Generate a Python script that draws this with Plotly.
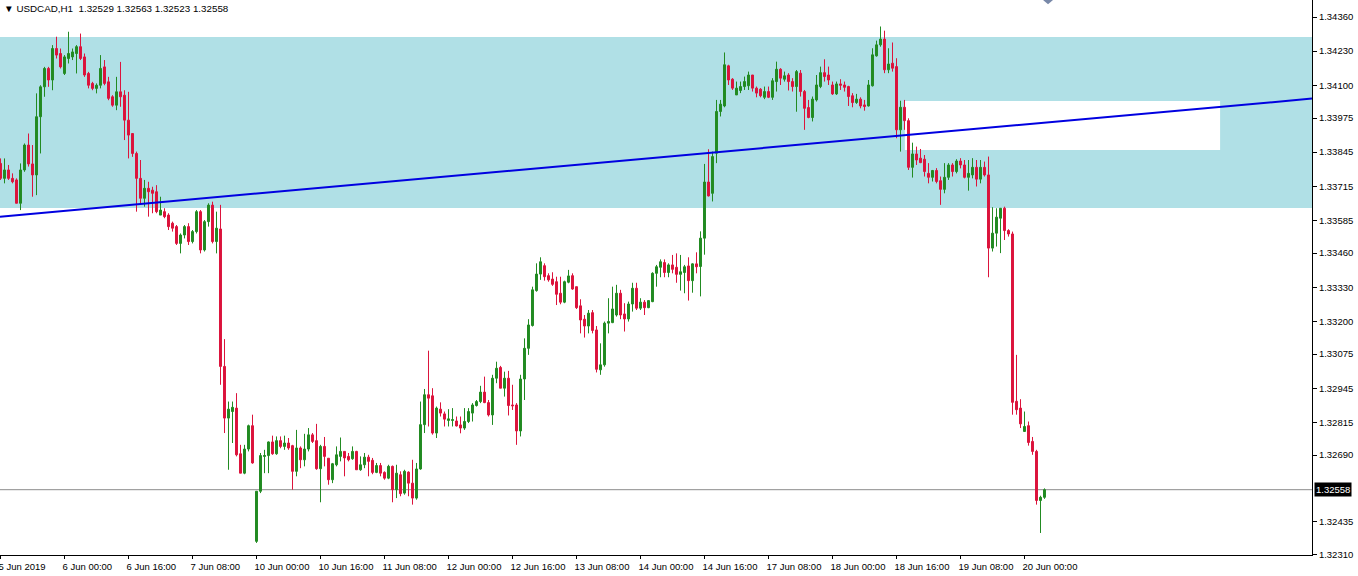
import plotly.graph_objects as go

SYMBOL = "USDCAD,H1"

opens = [
    1.33802, 1.33745, 1.33777, 1.33745, 1.33739, 1.33650, 1.33777, 1.33872, 1.33800, 1.33758,
    1.33980, 1.34094, 1.34164, 1.34120, 1.34240, 1.34221, 1.34145, 1.34202, 1.34208, 1.34221,
    1.34247, 1.34208, 1.34145, 1.34107, 1.34088, 1.34100, 1.34170, 1.34113, 1.34056, 1.34024,
    1.34075, 1.34062, 1.33967, 1.33916, 1.33840, 1.33745, 1.33669, 1.33707, 1.33700, 1.33694,
    1.33605, 1.33618, 1.33605, 1.33574, 1.33561, 1.33497, 1.33529, 1.33561, 1.33504, 1.33542,
    1.33618, 1.33472, 1.33580, 1.33643, 1.33504, 1.33552, 1.33028, 1.32831, 1.32856, 1.32869,
    1.32695, 1.32621, 1.32713, 1.32802, 1.32361, 1.32552, 1.32685, 1.32688, 1.32740, 1.32695,
    1.32745, 1.32723, 1.32736, 1.32726, 1.32628, 1.32717, 1.32672, 1.32713, 1.32767, 1.32745,
    1.32638, 1.32723, 1.32678, 1.32596, 1.32653, 1.32685, 1.32704, 1.32685, 1.32676, 1.32704,
    1.32634, 1.32653, 1.32682, 1.32670, 1.32624, 1.32650, 1.32624, 1.32602, 1.32647, 1.32558,
    1.32615, 1.32545, 1.32625, 1.32583, 1.32526, 1.32637, 1.32806, 1.32920, 1.32916, 1.32774,
    1.32865, 1.32847, 1.32822, 1.32822, 1.32820, 1.32805, 1.32793, 1.32818, 1.32850, 1.32879,
    1.32894, 1.32930, 1.32890, 1.32843, 1.32983, 1.33024, 1.32945, 1.32983, 1.32881, 1.32881,
    1.32782, 1.32980, 1.33097, 1.33184, 1.33317, 1.33380, 1.33412, 1.33374, 1.33361, 1.33351,
    1.33307, 1.33273, 1.33349, 1.33374, 1.33332, 1.33259, 1.33208, 1.33182, 1.33233, 1.33167,
    1.33015, 1.33034, 1.33193, 1.33195, 1.33224, 1.33307, 1.33228, 1.33209, 1.33266, 1.33326,
    1.33250, 1.33273, 1.33252, 1.33275, 1.33383, 1.33406, 1.33424, 1.33386, 1.33415, 1.33406,
    1.33379, 1.33386, 1.33411, 1.33355, 1.33419, 1.33409, 1.33517, 1.33731, 1.33688, 1.33841,
    1.34000, 1.34021, 1.34174, 1.34123, 1.34063, 1.34080, 1.34095, 1.34098, 1.34139, 1.34089,
    1.34085, 1.34054, 1.34076, 1.34054, 1.34114, 1.34161, 1.34123, 1.34139, 1.34114, 1.34095,
    1.34146, 1.34076, 1.34015, 1.33977, 1.34044, 1.34095, 1.34148, 1.34139, 1.34101, 1.34067,
    1.34105, 1.34101, 1.34095, 1.34060, 1.34034, 1.34047, 1.34025, 1.34021, 1.34098, 1.34212,
    1.34254, 1.34276, 1.34159, 1.34184, 1.34171, 1.33930, 1.34016, 1.33965, 1.33787, 1.33838,
    1.33822, 1.33818, 1.33764, 1.33749, 1.33775, 1.33736, 1.33703, 1.33749, 1.33796, 1.33771,
    1.33811, 1.33796, 1.33749, 1.33758, 1.33787, 1.33742, 1.33787, 1.33758, 1.33479, 1.33536,
    1.33593, 1.33631, 1.33546, 1.33533, 1.32895, 1.32869, 1.32780, 1.32802, 1.32742, 1.32704,
    1.32517, 1.32529,
]

highs = [
    1.33821, 1.33821, 1.33796, 1.33764, 1.33745, 1.33802, 1.33878, 1.33916, 1.33872, 1.34069,
    1.34100, 1.34170, 1.34170, 1.34253, 1.34285, 1.34240, 1.34215, 1.34304, 1.34240, 1.34253,
    1.34297, 1.34221, 1.34151, 1.34113, 1.34107, 1.34215, 1.34196, 1.34132, 1.34062, 1.34132,
    1.34189, 1.34081, 1.34075, 1.33916, 1.33847, 1.33815, 1.33739, 1.33732, 1.33713, 1.33719,
    1.33675, 1.33631, 1.33612, 1.33580, 1.33567, 1.33535, 1.33567, 1.33574, 1.33548, 1.33624,
    1.33624, 1.33586, 1.33650, 1.33656, 1.33618, 1.33644, 1.33132, 1.32894, 1.32894, 1.32926,
    1.32729, 1.32729, 1.32806, 1.32844, 1.32552, 1.32698, 1.32710, 1.32742, 1.32764, 1.32761,
    1.32761, 1.32764, 1.32755, 1.32729, 1.32786, 1.32723, 1.32771, 1.32793, 1.32774, 1.32809,
    1.32729, 1.32759, 1.32678, 1.32660, 1.32723, 1.32757, 1.32704, 1.32698, 1.32723, 1.32706,
    1.32685, 1.32698, 1.32691, 1.32679, 1.32660, 1.32660, 1.32628, 1.32653, 1.32650, 1.32653,
    1.32628, 1.32634, 1.32628, 1.32672, 1.32660, 1.32894, 1.32942, 1.33088, 1.32945, 1.32875,
    1.32891, 1.32856, 1.32865, 1.32869, 1.32837, 1.32837, 1.32869, 1.32869, 1.32888, 1.32900,
    1.32954, 1.32989, 1.32900, 1.32996, 1.33046, 1.33030, 1.33008, 1.33011, 1.32958, 1.32888,
    1.32996, 1.33135, 1.33208, 1.33332, 1.33421, 1.33444, 1.33421, 1.33383, 1.33387, 1.33370,
    1.33370, 1.33355, 1.33396, 1.33383, 1.33332, 1.33284, 1.33224, 1.33243, 1.33243, 1.33182,
    1.33116, 1.33199, 1.33288, 1.33332, 1.33339, 1.33320, 1.33269, 1.33275, 1.33347, 1.33347,
    1.33288, 1.33281, 1.33281, 1.33387, 1.33415, 1.33436, 1.33436, 1.33421, 1.33453, 1.33459,
    1.33453, 1.33415, 1.33444, 1.33421, 1.33463, 1.33543, 1.33800, 1.33856, 1.33847, 1.34044,
    1.34044, 1.34225, 1.34178, 1.34127, 1.34114, 1.34114, 1.34133, 1.34152, 1.34139, 1.34095,
    1.34089, 1.34095, 1.34095, 1.34127, 1.34190, 1.34165, 1.34152, 1.34146, 1.34127, 1.34158,
    1.34158, 1.34082, 1.34044, 1.34057, 1.34139, 1.34171, 1.34199, 1.34171, 1.34114, 1.34114,
    1.34123, 1.34114, 1.34098, 1.34070, 1.34067, 1.34054, 1.34044, 1.34120, 1.34241, 1.34270,
    1.34324, 1.34308, 1.34241, 1.34263, 1.34203, 1.34041, 1.34044, 1.33974, 1.33881, 1.33866,
    1.33857, 1.33834, 1.33803, 1.33777, 1.33784, 1.33752, 1.33803, 1.33803, 1.33803, 1.33818,
    1.33822, 1.33815, 1.33815, 1.33822, 1.33815, 1.33815, 1.33809, 1.33828, 1.33635, 1.33631,
    1.33631, 1.33637, 1.33551, 1.33542, 1.33072, 1.32903, 1.32856, 1.32818, 1.32759, 1.32710,
    1.32535, 1.32563,
]

lows = [
    1.33739, 1.33726, 1.33739, 1.33726, 1.33650, 1.33624, 1.33770, 1.33790, 1.33675, 1.33681,
    1.33840, 1.34056, 1.34094, 1.34081, 1.34202, 1.34164, 1.34139, 1.34183, 1.34196, 1.34145,
    1.34196, 1.34132, 1.34088, 1.34081, 1.34069, 1.34088, 1.34100, 1.34043, 1.34018, 1.34005,
    1.34018, 1.33891, 1.33821, 1.33827, 1.33618, 1.33650, 1.33637, 1.33599, 1.33612, 1.33612,
    1.33605, 1.33593, 1.33548, 1.33542, 1.33491, 1.33459, 1.33516, 1.33491, 1.33497, 1.33535,
    1.33459, 1.33466, 1.33561, 1.33497, 1.33459, 1.32958, 1.32774, 1.32634, 1.32736, 1.32685,
    1.32621, 1.32617, 1.32704, 1.32657, 1.32355, 1.32545, 1.32621, 1.32621, 1.32691, 1.32691,
    1.32716, 1.32710, 1.32710, 1.32558, 1.32609, 1.32640, 1.32647, 1.32704, 1.32736, 1.32634,
    1.32510, 1.32647, 1.32577, 1.32583, 1.32647, 1.32666, 1.32609, 1.32666, 1.32672, 1.32634,
    1.32630, 1.32640, 1.32609, 1.32617, 1.32621, 1.32609, 1.32596, 1.32598, 1.32510, 1.32526,
    1.32533, 1.32539, 1.32533, 1.32501, 1.32520, 1.32634, 1.32774, 1.32799, 1.32768, 1.32755,
    1.32837, 1.32799, 1.32799, 1.32799, 1.32799, 1.32773, 1.32786, 1.32812, 1.32818, 1.32875,
    1.32888, 1.32888, 1.32837, 1.32805, 1.32964, 1.32945, 1.32913, 1.32841, 1.32862, 1.32729,
    1.32761, 1.32900, 1.33072, 1.33180, 1.33313, 1.33358, 1.33355, 1.33351, 1.33335, 1.33262,
    1.33265, 1.33269, 1.33345, 1.33320, 1.33247, 1.33154, 1.33138, 1.33154, 1.33154, 1.33005,
    1.32996, 1.33027, 1.33154, 1.33193, 1.33218, 1.33208, 1.33161, 1.33199, 1.33237, 1.33243,
    1.33243, 1.33224, 1.33250, 1.33273, 1.33332, 1.33368, 1.33368, 1.33368, 1.33383, 1.33347,
    1.33317, 1.33307, 1.33279, 1.33309, 1.33383, 1.33295, 1.33454, 1.33676, 1.33657, 1.33803,
    1.33981, 1.34016, 1.34101, 1.34082, 1.34063, 1.34070, 1.34082, 1.34082, 1.34076, 1.34054,
    1.34054, 1.34047, 1.34051, 1.34044, 1.34076, 1.34101, 1.34114, 1.34080, 1.34076, 1.33999,
    1.34057, 1.33930, 1.33974, 1.33962, 1.34038, 1.34089, 1.34114, 1.34101, 1.34063, 1.34063,
    1.34082, 1.34076, 1.34021, 1.34016, 1.34029, 1.34012, 1.34003, 1.34019, 1.34095, 1.34209,
    1.34247, 1.34146, 1.34146, 1.34152, 1.33898, 1.33847, 1.33930, 1.33777, 1.33748, 1.33796,
    1.33803, 1.33752, 1.33726, 1.33733, 1.33726, 1.33644, 1.33688, 1.33739, 1.33752, 1.33764,
    1.33783, 1.33745, 1.33698, 1.33745, 1.33714, 1.33726, 1.33752, 1.33368, 1.33466, 1.33485,
    1.33460, 1.33510, 1.33523, 1.32844, 1.32844, 1.32793, 1.32780, 1.32726, 1.32691, 1.32501,
    1.32393, 1.32523,
]

closes = [
    1.33745, 1.33777, 1.33745, 1.33732, 1.33650, 1.33777, 1.33872, 1.33800, 1.33758, 1.33980,
    1.34094, 1.34164, 1.34120, 1.34240, 1.34215, 1.34170, 1.34208, 1.34221, 1.34227, 1.34247,
    1.34202, 1.34139, 1.34100, 1.34088, 1.34100, 1.34164, 1.34107, 1.34050, 1.34024, 1.34075,
    1.34056, 1.33967, 1.33910, 1.33840, 1.33745, 1.33669, 1.33707, 1.33694, 1.33688, 1.33618,
    1.33624, 1.33599, 1.33561, 1.33555, 1.33497, 1.33529, 1.33561, 1.33504, 1.33542, 1.33618,
    1.33472, 1.33580, 1.33643, 1.33504, 1.33555, 1.33028, 1.32831, 1.32865, 1.32872, 1.32691,
    1.32621, 1.32713, 1.32802, 1.32660, 1.32552, 1.32688, 1.32688, 1.32740, 1.32695, 1.32745,
    1.32723, 1.32736, 1.32717, 1.32628, 1.32717, 1.32672, 1.32713, 1.32767, 1.32742, 1.32638,
    1.32723, 1.32685, 1.32596, 1.32657, 1.32691, 1.32704, 1.32679, 1.32672, 1.32704, 1.32634,
    1.32653, 1.32682, 1.32666, 1.32624, 1.32650, 1.32621, 1.32602, 1.32647, 1.32558, 1.32621,
    1.32543, 1.32628, 1.32583, 1.32526, 1.32637, 1.32806, 1.32920, 1.32907, 1.32774, 1.32869,
    1.32850, 1.32827, 1.32828, 1.32825, 1.32801, 1.32793, 1.32818, 1.32856, 1.32881, 1.32894,
    1.32930, 1.32890, 1.32843, 1.32983, 1.33021, 1.32945, 1.32983, 1.32879, 1.32878, 1.32782,
    1.32980, 1.33097, 1.33186, 1.33320, 1.33380, 1.33427, 1.33370, 1.33358, 1.33341, 1.33303,
    1.33273, 1.33351, 1.33373, 1.33323, 1.33252, 1.33205, 1.33182, 1.33231, 1.33165, 1.33017,
    1.33034, 1.33193, 1.33199, 1.33247, 1.33307, 1.33224, 1.33209, 1.33266, 1.33326, 1.33250,
    1.33273, 1.33252, 1.33279, 1.33383, 1.33408, 1.33427, 1.33386, 1.33415, 1.33398, 1.33379,
    1.33389, 1.33408, 1.33355, 1.33419, 1.33408, 1.33517, 1.33731, 1.33678, 1.33828, 1.34000,
    1.34028, 1.34178, 1.34120, 1.34089, 1.34089, 1.34095, 1.34114, 1.34139, 1.34089, 1.34070,
    1.34060, 1.34076, 1.34054, 1.34117, 1.34161, 1.34127, 1.34136, 1.34114, 1.34095, 1.34152,
    1.34076, 1.34012, 1.33977, 1.34047, 1.34101, 1.34148, 1.34133, 1.34120, 1.34067, 1.34105,
    1.34100, 1.34092, 1.34057, 1.34034, 1.34047, 1.34021, 1.34019, 1.34101, 1.34216, 1.34254,
    1.34276, 1.34159, 1.34181, 1.34165, 1.33930, 1.34016, 1.33965, 1.33787, 1.33838, 1.33815,
    1.33805, 1.33771, 1.33749, 1.33775, 1.33733, 1.33703, 1.33749, 1.33796, 1.33771, 1.33811,
    1.33796, 1.33749, 1.33764, 1.33787, 1.33742, 1.33787, 1.33758, 1.33479, 1.33536, 1.33597,
    1.33631, 1.33546, 1.33533, 1.32891, 1.32863, 1.32809, 1.32799, 1.32738, 1.32704, 1.32517,
    1.32529, 1.32558,
]

# time-axis labels (one every 16 hourly bars)
time_tick_bars = [0, 16, 32, 48, 64, 80, 96, 112, 128, 144, 160, 176, 192, 208, 224, 240, 256]
time_tick_labels = [
    "5 Jun 2019", "6 Jun 00:00", "6 Jun 16:00", "7 Jun 08:00", "10 Jun 00:00",
    "10 Jun 16:00", "11 Jun 08:00", "12 Jun 00:00", "12 Jun 16:00", "13 Jun 08:00",
    "14 Jun 00:00", "14 Jun 16:00", "17 Jun 08:00", "18 Jun 00:00", "18 Jun 16:00",
    "19 Jun 08:00", "20 Jun 00:00",
]
price_ticks = [1.34360, 1.34230, 1.34100, 1.33975, 1.33845, 1.33715, 1.33585, 1.33460,
               1.33330, 1.33200, 1.33075, 1.32945, 1.32815, 1.32690, 1.32435, 1.32310]

# drawn objects
zone_top, zone_bottom = 1.34284, 1.33632
white_box_bars = [226.1, 304.9]
white_box_prices = [1.34040, 1.33853]
trend_bars = [-0.125, 327.875]
trend_prices = [1.33599, 1.34049]

GREEN = "#228B22"
RED = "#DC143C"
FONT = "Liberation Sans, Arial, sans-serif"

bars = list(range(len(closes)))

fig = go.Figure()
fig.add_trace(go.Candlestick(
    x=bars, open=opens, high=highs, low=lows, close=closes,
    increasing=dict(line=dict(color=GREEN, width=1), fillcolor=GREEN),
    decreasing=dict(line=dict(color=RED, width=1), fillcolor=RED),
    whiskerwidth=0, hoverinfo="skip", showlegend=False,
))

shapes = [
    dict(type="rect", xref="paper", yref="y", x0=0, x1=1, y0=zone_bottom, y1=zone_top,
         fillcolor="#B0E0E6", line=dict(width=0), layer="below"),
    dict(type="rect", xref="x", yref="y", x0=white_box_bars[0], x1=white_box_bars[1],
         y0=white_box_prices[1], y1=white_box_prices[0],
         fillcolor="white", line=dict(width=0), layer="below"),
    dict(type="line", xref="paper", yref="y", x0=0, x1=1, y0=closes[-1], y1=closes[-1],
         line=dict(color="#8C8C8C", width=1), layer="below"),
    dict(type="line", xref="x", yref="y", x0=trend_bars[0], x1=trend_bars[1],
         y0=trend_prices[0], y1=trend_prices[1],
         line=dict(color="#0000E0", width=2), layer="above"),
    dict(type="path", xref="paper", yref="paper",
         path="M 0.7950 1 L 0.8026 1 L 0.7988 0.9925 Z",
         fillcolor="#7888A8", line=dict(width=0)),
]

header = (f"▼ {SYMBOL}\u00a0\u00a0{opens[-1]:.5f} {highs[-1]:.5f} "
          f"{lows[-1]:.5f} {closes[-1]:.5f}")

annotations = [
    dict(xref="paper", yref="paper", x=0, y=1, xshift=2, yshift=-1,
         xanchor="left", yanchor="top", showarrow=False, text=header,
         font=dict(family=FONT, size=9.8, color="black")),
    dict(xref="paper", yref="y", x=1, y=closes[-1], xanchor="left", yanchor="middle",
         xshift=2, showarrow=False, text=f"{closes[-1]:.5f}", bgcolor="black",
         borderpad=1, font=dict(family=FONT, size=9.5, color="white")),
]

fig.update_layout(
    width=1358, height=576,
    margin=dict(l=0, r=46, t=0, b=21, pad=0, autoexpand=False),
    paper_bgcolor="white", plot_bgcolor="white",
    showlegend=False, hovermode=False,
    shapes=shapes, annotations=annotations,
    font=dict(family=FONT, size=9.5, color="black"),
    xaxis=dict(
        range=[-0.125, 327.875], tickmode="array", tickvals=time_tick_bars,
        ticktext=time_tick_labels, ticks="outside", ticklen=3, tickcolor="black",
        ticklabelposition="outside right", ticklabelshift=-3, ticklabelstandoff=3,
        ticklabeloverflow="allow", tickangle=0, automargin=False,
        showline=True, linecolor="black", linewidth=1,
        showgrid=False, zeroline=False, rangeslider=dict(visible=False),
        tickfont=dict(family=FONT, size=9.5, color="black"),
    ),
    yaxis=dict(
        side="right", range=[1.32309, 1.34425], tickmode="array", tickvals=price_ticks,
        ticktext=[f"{v:.5f}" for v in price_ticks], ticks="outside", ticklen=4,
        tickcolor="black", showline=True, linecolor="black", linewidth=1,
        showgrid=False, zeroline=False, automargin=False,
        tickfont=dict(family=FONT, size=9.5, color="black"),
    ),
)

fig.write_html(
    "out.html",
    config={"displayModeBar": False},
    post_script="document.body.style.margin='0';document.body.style.overflow='hidden';",
)
